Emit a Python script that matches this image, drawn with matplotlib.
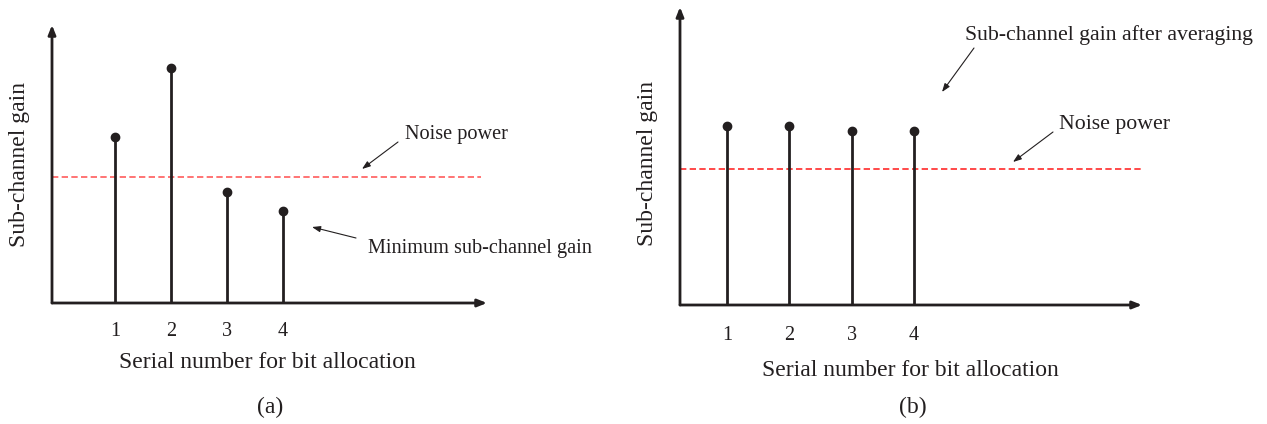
import matplotlib
matplotlib.use("Agg")
import matplotlib.pyplot as plt
from matplotlib.patches import FancyArrowPatch

plt.rcParams['font.family'] = ['Liberation Serif', 'DejaVu Serif']

# ---- data ----
serial = [1, 2, 3, 4]
tick_labels = ['1', '2', '3', '4']
gain_a = [5.98, 8.44, 3.99, 3.31]
noise_a = 4.54
gain_b = [6.01, 6.01, 5.84, 5.84]
noise_b = 4.55

W, H = 1267, 424
fig = plt.figure(figsize=(W / 100, H / 100), dpi=100)
fig.patch.set_facecolor('white')

TXT = '#231f20'


def fx(x):
    return x / W


def fy(y):
    return 1 - y / H


def make_panel(left, right, top, bottom, xlim, gains, noise, noise_end_px,
               red, tick_y, xlabel_xy, ylabel_xy):
    ax = fig.add_axes([fx(left), fy(bottom), fx(right - left), (bottom - top) / H])
    ax.set_xlim(*xlim)
    ax.set_ylim(0, 10)
    for s in ax.spines.values():
        s.set_visible(False)
    ax.patch.set_alpha(0)
    akw = dict(arrowstyle='-|>,head_length=0.55,head_width=0.22',
               lw=2.0, color=TXT, shrinkA=0, shrinkB=0)
    ax.annotate('', xy=(1, 0), xytext=(0, 0), xycoords='axes fraction', arrowprops=akw)
    ax.annotate('', xy=(0, 1), xytext=(0, 0), xycoords='axes fraction', arrowprops=akw)
    # stems
    ax.vlines(serial, 0, gains, colors=TXT, lw=2.0, zorder=3)
    ax.plot(serial, gains, 'o', color=TXT, ms=6, zorder=4)
    # noise line
    ax.axhline(noise, xmin=0, xmax=(noise_end_px - left) / (right - left), color=red,
               lw=1.2, ls=(0, (3.8, 2.0)), zorder=2)
    # ticks
    ax.set_xticks(serial)
    ax.set_xticklabels(tick_labels, fontsize=14.5, color=TXT, va='center')
    pad_px = tick_y - bottom + 2
    ax.tick_params(axis='x', length=0, pad=pad_px * 0.72)
    ax.set_yticks([])
    ax.set_xlabel('Serial number for bit allocation', fontsize=17, color=TXT, va='center')
    ax.xaxis.set_label_coords(fx(xlabel_xy[0]), fy(xlabel_xy[1] + 2), transform=fig.transFigure)
    ax.set_ylabel('Sub-channel gain', fontsize=17, color=TXT, va='center', ha='center')
    ax.yaxis.set_label_coords(fx(ylabel_xy[0]), fy(ylabel_xy[1]), transform=fig.transFigure)
    return ax


axa = make_panel(52, 487, 25, 303, (-0.14, 7.67), gain_a, noise_a, 481,
                 '#ff5c5c', 329, (267, 361), (20, 164.5))
axb = make_panel(680, 1142, 7, 305, (0.245, 7.66), gain_b, noise_b, 1141,
                 '#ff2a2a', 333, (910, 368), (647, 163))

# annotations (figure pixel layout)
arrow_kw = dict(arrowstyle='-|>,head_length=0.5,head_width=0.18', lw=0.8,
                color=TXT, shrinkA=0, shrinkB=0)


def note(text, tx, ty, size, ax0, ay0, ax1, ay1):
    fig.text(fx(tx), fy(ty + 2), text, fontsize=size, color=TXT, ha='left', va='center')
    fig.add_artist(FancyArrowPatch((fx(ax0), fy(ay0)), (fx(ax1), fy(ay1)),
                                   transform=fig.transFigure, mutation_scale=10, **arrow_kw))


note('Noise power', 405, 133, 14.6, 398, 142, 362, 169)
note('Minimum sub-channel gain', 368, 246, 14.6, 356, 238, 312, 227)
note('Sub-channel gain after averaging', 965, 33, 15.7, 974, 48, 942, 92)
note('Noise power', 1059, 123, 15.7, 1053, 132, 1013, 162)

fig.text(fx(270), fy(407), '(a)', fontsize=17, color=TXT, ha='center', va='center')
fig.text(fx(913), fy(407), '(b)', fontsize=17, color=TXT, ha='center', va='center')

fig.savefig('out.png', dpi=100, facecolor='white')
